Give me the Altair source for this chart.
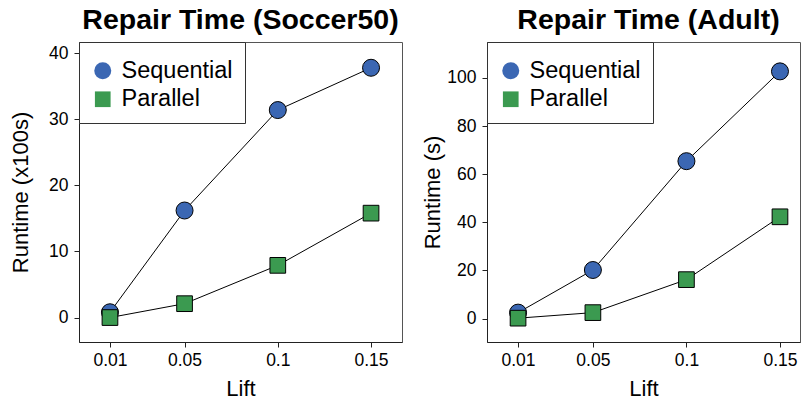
import altair as alt
import pandas as pd

lift = [0.01, 0.05, 0.1, 0.15]
methods = ["Sequential", "Parallel"]

soccer_seq = [0.8, 16.2, 31.4, 37.8]
soccer_par = [0.0, 2.1, 7.9, 15.8]
adult_seq = [2.5, 20.2, 65.4, 102.7]
adult_par = [0.2, 2.5, 16.2, 42.3]

soccer_ticks = [0, 10, 20, 30, 40]
adult_ticks = [0, 20, 40, 60, 80, 100]

BLUE = "#3b67b3"
GREEN = "#3b9a50"
FONT = "Liberation Sans"


def make_df(seq, par):
    rows = []
    for m, vals in zip(methods, [seq, par]):
        for x, v in zip(lift, vals):
            rows.append({"Lift": x, "Runtime": v, "Method": m})
    return pd.DataFrame(rows)


def panel(seq, par, title, ytitle, ydomain, yvalues, width, xmax, title_dx, ytitle_pad):
    df = make_df(seq, par)
    base = alt.Chart(df)
    x = alt.X("Lift:Q",
              scale=alt.Scale(domain=[-0.0066, xmax], nice=False, zero=False),
              axis=alt.Axis(values=lift, format="~g", title="Lift"))
    y = alt.Y("Runtime:Q",
              scale=alt.Scale(domain=ydomain, nice=False, zero=False),
              axis=alt.Axis(values=yvalues, title=ytitle, titlePadding=ytitle_pad))
    line = base.mark_line(color="black", strokeWidth=1).encode(
        x=x, y=y, detail="Method:N")
    pts = base.mark_point(filled=True, opacity=1, stroke="black", strokeWidth=1).encode(
        x=x, y=y,
        fill=alt.Fill("Method:N", scale=alt.Scale(domain=methods, range=[BLUE, GREEN]), title=" "),
        shape=alt.Shape("Method:N", scale=alt.Scale(domain=methods, range=["circle", "square"]), title=" "),
        size=alt.Size("Method:N", scale=alt.Scale(domain=methods, range=[289, 246]), title=" "),
    )
    return alt.layer(line, pts).properties(
        width=width, height=300,
        title=alt.Title(title, dx=title_dx),
    )


left = panel(soccer_seq, soccer_par, "Repair Time (Soccer50)", "Runtime (x100s)",
             [-3.7, 41.7], soccer_ticks, 323, 0.1666, 0, 16)
right = panel(adult_seq, adult_par, "Repair Time (Adult)", "Runtime (s)",
              [-9.7, 114.9], adult_ticks, 313, 0.1607, 5, 2)

chart = alt.hconcat(left, right, spacing=18).resolve_scale(
    x="independent", y="independent", fill="independent", shape="independent", size="independent"
).resolve_legend(
    fill="independent", shape="independent", size="independent"
).properties(
    padding={"left": 9, "top": 5, "right": 0, "bottom": 2}
).configure_view(
    stroke="#555", strokeWidth=1
).configure_axis(
    grid=False, domainColor="#222", tickColor="#222", tickSize=5,
    labelFont=FONT, labelFontSize=17.5, labelColor="black", labelPadding=4,
    titleFont=FONT, titleFontSize=22, titleFontWeight="normal", titleColor="black",
).configure_axisY(
    labelPadding=6,
).configure_axisX(
    titlePadding=10,
).configure_title(
    font=FONT, fontSize=28.5, fontWeight="bold", color="black", anchor="middle", offset=7,
).configure_legend(
    orient="top-left", offset=0, padding=12, strokeColor="#333", fillColor="white",
    labelFont=FONT, labelFontSize=23.5, labelColor="black", rowPadding=3.5, labelOffset=7,
    titleFontSize=2, titlePadding=3, titleFont=FONT,
    symbolStrokeColor="black", symbolStrokeWidth=1, cornerRadius=0,
)

chart.save("out.html", embed_options={"renderer": "svg", "actions": False})
